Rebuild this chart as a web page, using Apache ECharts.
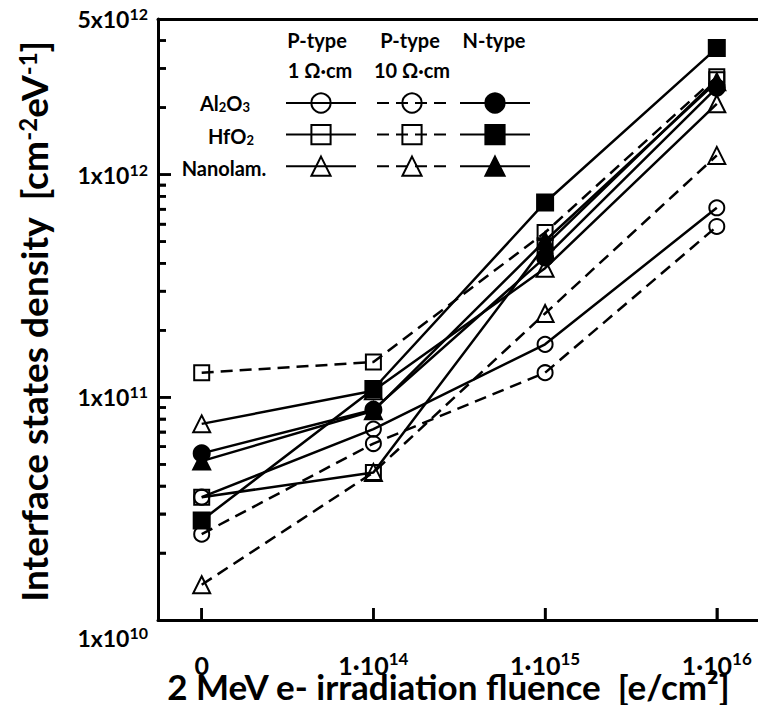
<!DOCTYPE html>
<html><head><meta charset="utf-8">
<script src="https://cdn.jsdelivr.net/npm/echarts@6/dist/echarts.min.js"></script>
<style>html,body{margin:0;padding:0;background:#fff}#c{width:758px;height:705px}</style>
</head><body><div id="c"></div>
<script>
// ---------- data ----------
const xCategories = ['0', '1·10', '1·10', '1·10'];
const xExponents = ['', '14', '15', '16'];
const yTickValues = [1e10, 1e11, 1e12, 5e12];
const yTickMantissas = ['1', '1', '1', '5'];
const yTickExponents = ['10', '11', '12', '12'];
const yMajorTicks = [1e11, 1e12];
const yMinorTicks = [2e10, 3e10, 4e10, 5e10, 6e10, 7e10, 8e10, 9e10,
                     2e11, 3e11, 4e11, 5e11, 6e11, 7e11, 8e11, 9e11,
                     2e12, 3e12, 4e12];

const al2o3P1  = [3.56e10, 7.2e10, 1.73e11, 7.1e11];
const al2o3P10 = [2.43e10, 6.2e10, 1.29e11, 5.85e11];
const al2o3N   = [5.6e10, 8.8e10, 4.25e11, 2.46e12];
const hfo2P1   = [3.56e10, 4.6e10, 4.8e11, 2.67e12];
const hfo2P10  = [1.29e11, 1.44e11, 5.5e11, 2.75e12];
const hfo2N    = [2.8e10, 1.09e11, 7.5e11, 3.7e12];
const nanoP1   = [7.6e10, 1.07e11, 3.8e11, 2.08e12];
const nanoP10  = [1.44e10, 4.6e10, 2.38e11, 1.22e12];
const nanoN    = [5.17e10, 8.7e10, 5.05e11, 2.61e12];

const rowLabels = ['Al{b|2}O{b|3}', 'HfO{b|2}', 'Nanolam.'];
const colHeads1 = ['P-type', 'P-type', 'N-type'];
const colHeads2 = ['1 Ω·cm', '10 Ω·cm', ''];

// ---------- styling ----------
const F = 'Lato, "Noto Sans", "DejaVu Sans", sans-serif';
const X_MIN = -0.2545, X_MAX = 3.2458;
const Y_LMIN = Math.log10(yTickValues[0]), Y_LMAX = Math.log10(yTickValues[yTickValues.length - 1]);

const defs = [
  {name: 'Al2O3 P 1', values: al2o3P1, symbol: 'circle', size: 15, filled: false, dashed: false},
  {name: 'Al2O3 P 10', values: al2o3P10, symbol: 'circle', size: 15, filled: false, dashed: true},
  {name: 'Al2O3 N', values: al2o3N, symbol: 'circle', size: 16, filled: true, dashed: false},
  {name: 'HfO2 P 1', values: hfo2P1, symbol: 'rect', size: 15, filled: false, dashed: false},
  {name: 'HfO2 P 10', values: hfo2P10, symbol: 'rect', size: 15, filled: false, dashed: true},
  {name: 'HfO2 N', values: hfo2N, symbol: 'rect', size: 16, filled: true, dashed: false},
  {name: 'Nano P 1', values: nanoP1, symbol: 'triangle', size: 17, filled: false, dashed: false},
  {name: 'Nano P 10', values: nanoP10, symbol: 'triangle', size: 17, filled: false, dashed: true},
  {name: 'Nano N', values: nanoN, symbol: 'triangle', size: 17, filled: true, dashed: false}
];

const yRich = {
  m: {fontFamily: F, fontWeight: 'bold', fontSize: 23, lineHeight: 27, color: '#000'},
  s: {fontFamily: F, fontWeight: 'bold', fontSize: 16, lineHeight: 16, verticalAlign: 'top', color: '#000'},
  gap: {fontSize: 10, lineHeight: 36}
};
const xRich = {
  m: {fontFamily: F, fontWeight: 'bold', fontSize: 25, lineHeight: 29, color: '#000'},
  s: {fontFamily: F, fontWeight: 'bold', fontSize: 17, lineHeight: 17, verticalAlign: 'top', color: '#000'}
};

const chart = echarts.init(document.getElementById('c'), null, {renderer: 'svg'});

const legendCols = [
  {left: 285, names: [defs[0].name, defs[3].name, defs[6].name]},
  {left: 376, names: [defs[1].name, defs[4].name, defs[7].name]},
  {left: 459, names: [defs[2].name, defs[5].name, defs[8].name]}
];

const textEls = [];
const headX1 = [317, 410, 494], headX2 = [320, 412, 494];
colHeads1.forEach((t, i) => textEls.push({type: 'text', x: headX1[i], y: 40,
  style: {text: t, font: 'bold 20px ' + F, fill: '#000', align: 'center', verticalAlign: 'middle', textAlign: 'center', textVerticalAlign: 'middle'}}));
colHeads2.forEach((t, i) => { if (t) textEls.push({type: 'text', x: headX2[i], y: 70,
  style: {text: t, font: 'bold 20px ' + F, fill: '#000', align: 'center', verticalAlign: 'middle', textAlign: 'center', textVerticalAlign: 'middle'}}); });
const rowX = [225, 231, 224], rowY = [103, 136, 168];
rowLabels.forEach((t, i) => textEls.push({type: 'text', x: rowX[i], y: rowY[i],
  style: {text: t, font: 'bold 20px ' + F, fill: '#000', align: 'center', verticalAlign: 'middle', textAlign: 'center', textVerticalAlign: 'middle',
    rich: {b: {fontFamily: F, fontWeight: 'bold', fontSize: 13, lineHeight: 13, verticalAlign: 'bottom', color: '#000'}}}}));

// tick marks: custom series, each tick placed with the axes' own scales (api.coord)
function tickSeries(data, dx, dy) {
  return {
    type: 'custom', xAxisIndex: 0, yAxisIndex: 0, data: data, clip: false, silent: true, z: 30,
    encode: {x: 0, y: 1},
    renderItem: function (params, api) {
      const p = api.coord([api.value(0), api.value(1)]);
      return {type: 'line', shape: {x1: p[0], y1: p[1], x2: p[0] + dx, y2: p[1] + dy},
        style: {stroke: '#000', lineWidth: 2.5}};
    }
  };
}

const lineSeries = defs.map((d, k) => ({
  type: 'line', name: d.name, xAxisIndex: 0, yAxisIndex: 0,
  data: d.values.map((v, i) => [i, v]),
  symbol: d.symbol, symbolSize: d.size, showSymbol: true, clip: false,
  lineStyle: {color: '#000', width: 2.5, type: d.dashed ? [12, 7] : 'solid'},
  itemStyle: {color: d.filled ? '#000' : 'rgba(255,255,255,0)', borderColor: '#000', borderWidth: 2},
  emphasis: {disabled: true},
  z: 2 + k
}));

const option = {
  animation: false,
  backgroundColor: '#fff',
  grid: {left: 158, top: 19, right: -1, bottom: 85, containLabel: false, outerBoundsMode: 'none'},
  graphic: textEls,
  legend: legendCols.map(c => ({
    data: c.names, orient: 'vertical', left: c.left, top: 91, padding: 0,
    itemWidth: 70, itemHeight: 24, itemGap: 9, selectedMode: false,
    formatter: () => '', textStyle: {fontSize: 1}
  })),
  xAxis: [{
    type: 'value', min: X_MIN, max: X_MAX,
    axisLine: {show: true, onZero: false, lineStyle: {color: '#000', width: 3}},
    axisTick: {show: true, inside: true, length: 12, customValues: xCategories.map((c, i) => i), lineStyle: {color: '#000', width: 2.5}},
    axisLabel: {show: true, customValues: xCategories.map((c, i) => i), margin: 30,
      fontFamily: F, fontWeight: 'bold', fontSize: 25, color: '#000',
      formatter: v => { const i = Math.round(v); return xExponents[i] ? '{m|' + xCategories[i] + '}{s|' + xExponents[i] + '}' : '{m|' + xCategories[i] + '}'; },
      rich: xRich},
    splitLine: {show: false},
    name: '2 MeV e- irradiation fluence  [e/cm²]', nameLocation: 'middle', nameGap: 48, nameMoveOverlap: false,
    nameTextStyle: {fontFamily: F, fontWeight: 'bold', fontSize: 35, color: '#000', padding: [0, 20, 0, 0]}
  }, {
    type: 'value', position: 'top', min: X_MIN, max: X_MAX,
    axisLine: {show: true, onZero: false, lineStyle: {color: '#000', width: 3}},
    axisTick: {show: false}, axisLabel: {show: false}, splitLine: {show: false}
  }],
  yAxis: [{
    type: 'log', logBase: 10, min: yTickValues[0], max: yTickValues[yTickValues.length - 1],
    axisLine: {show: true, onZero: false, lineStyle: {color: '#000', width: 3}},
    axisTick: {show: true, inside: true, length: 13, lineStyle: {color: '#000', width: 2.5}},
    axisLabel: {show: false},
    splitLine: {show: false}, minorTick: {show: false},
    name: 'Interface states density  [cm{s|-2}eV{s|-1}]', nameLocation: 'middle', nameGap: 106, nameRotate: 90, nameMoveOverlap: false,
    nameTextStyle: {fontFamily: F, fontWeight: 'bold', fontSize: 37, color: '#000', padding: [0, 4, 0, 0],
      rich: {s: {fontFamily: F, fontWeight: 'bold', fontSize: 24, lineHeight: 24, verticalAlign: 'top', color: '#000'}}}
  }, {
    type: 'value', position: 'left', min: Y_LMIN, max: Y_LMAX,
    axisLine: {show: false, onZero: false},
    axisTick: {show: true, inside: true, length: 8, customValues: yMinorTicks.map(v => Math.log10(v)), lineStyle: {color: '#000', width: 2.5}},
    axisLabel: {show: true, customValues: yTickValues.map(v => Math.log10(v)), margin: 10,
      fontFamily: F, fontWeight: 'bold', fontSize: 23, color: '#000',
      formatter: v => {
        let best = 0;
        yTickValues.forEach((t, i) => { if (Math.abs(Math.log10(t) - v) < Math.abs(Math.log10(yTickValues[best]) - v)) best = i; });
        const s = '{m|' + yTickMantissas[best] + 'x10}{s|' + yTickExponents[best] + '}';
        return best === 0 ? '{gap| }\n' + s : s;
      },
      rich: yRich},
    splitLine: {show: false}
  }, {
    type: 'value', position: 'right', min: 0, max: 1,
    axisLine: {show: true, onZero: false, lineStyle: {color: '#000', width: 3}},
    axisTick: {show: false}, axisLabel: {show: false}, splitLine: {show: false}
  }],
  series: lineSeries.concat([
    tickSeries(yMajorTicks.map(v => [X_MIN, v]), 13, 0),
    tickSeries(yMinorTicks.map(v => [X_MIN, v]), 8, 0),
    tickSeries(xCategories.map((c, i) => [i, yTickValues[0]]), 0, -12)
  ])
};
chart.setOption(option);
</script></body></html>
